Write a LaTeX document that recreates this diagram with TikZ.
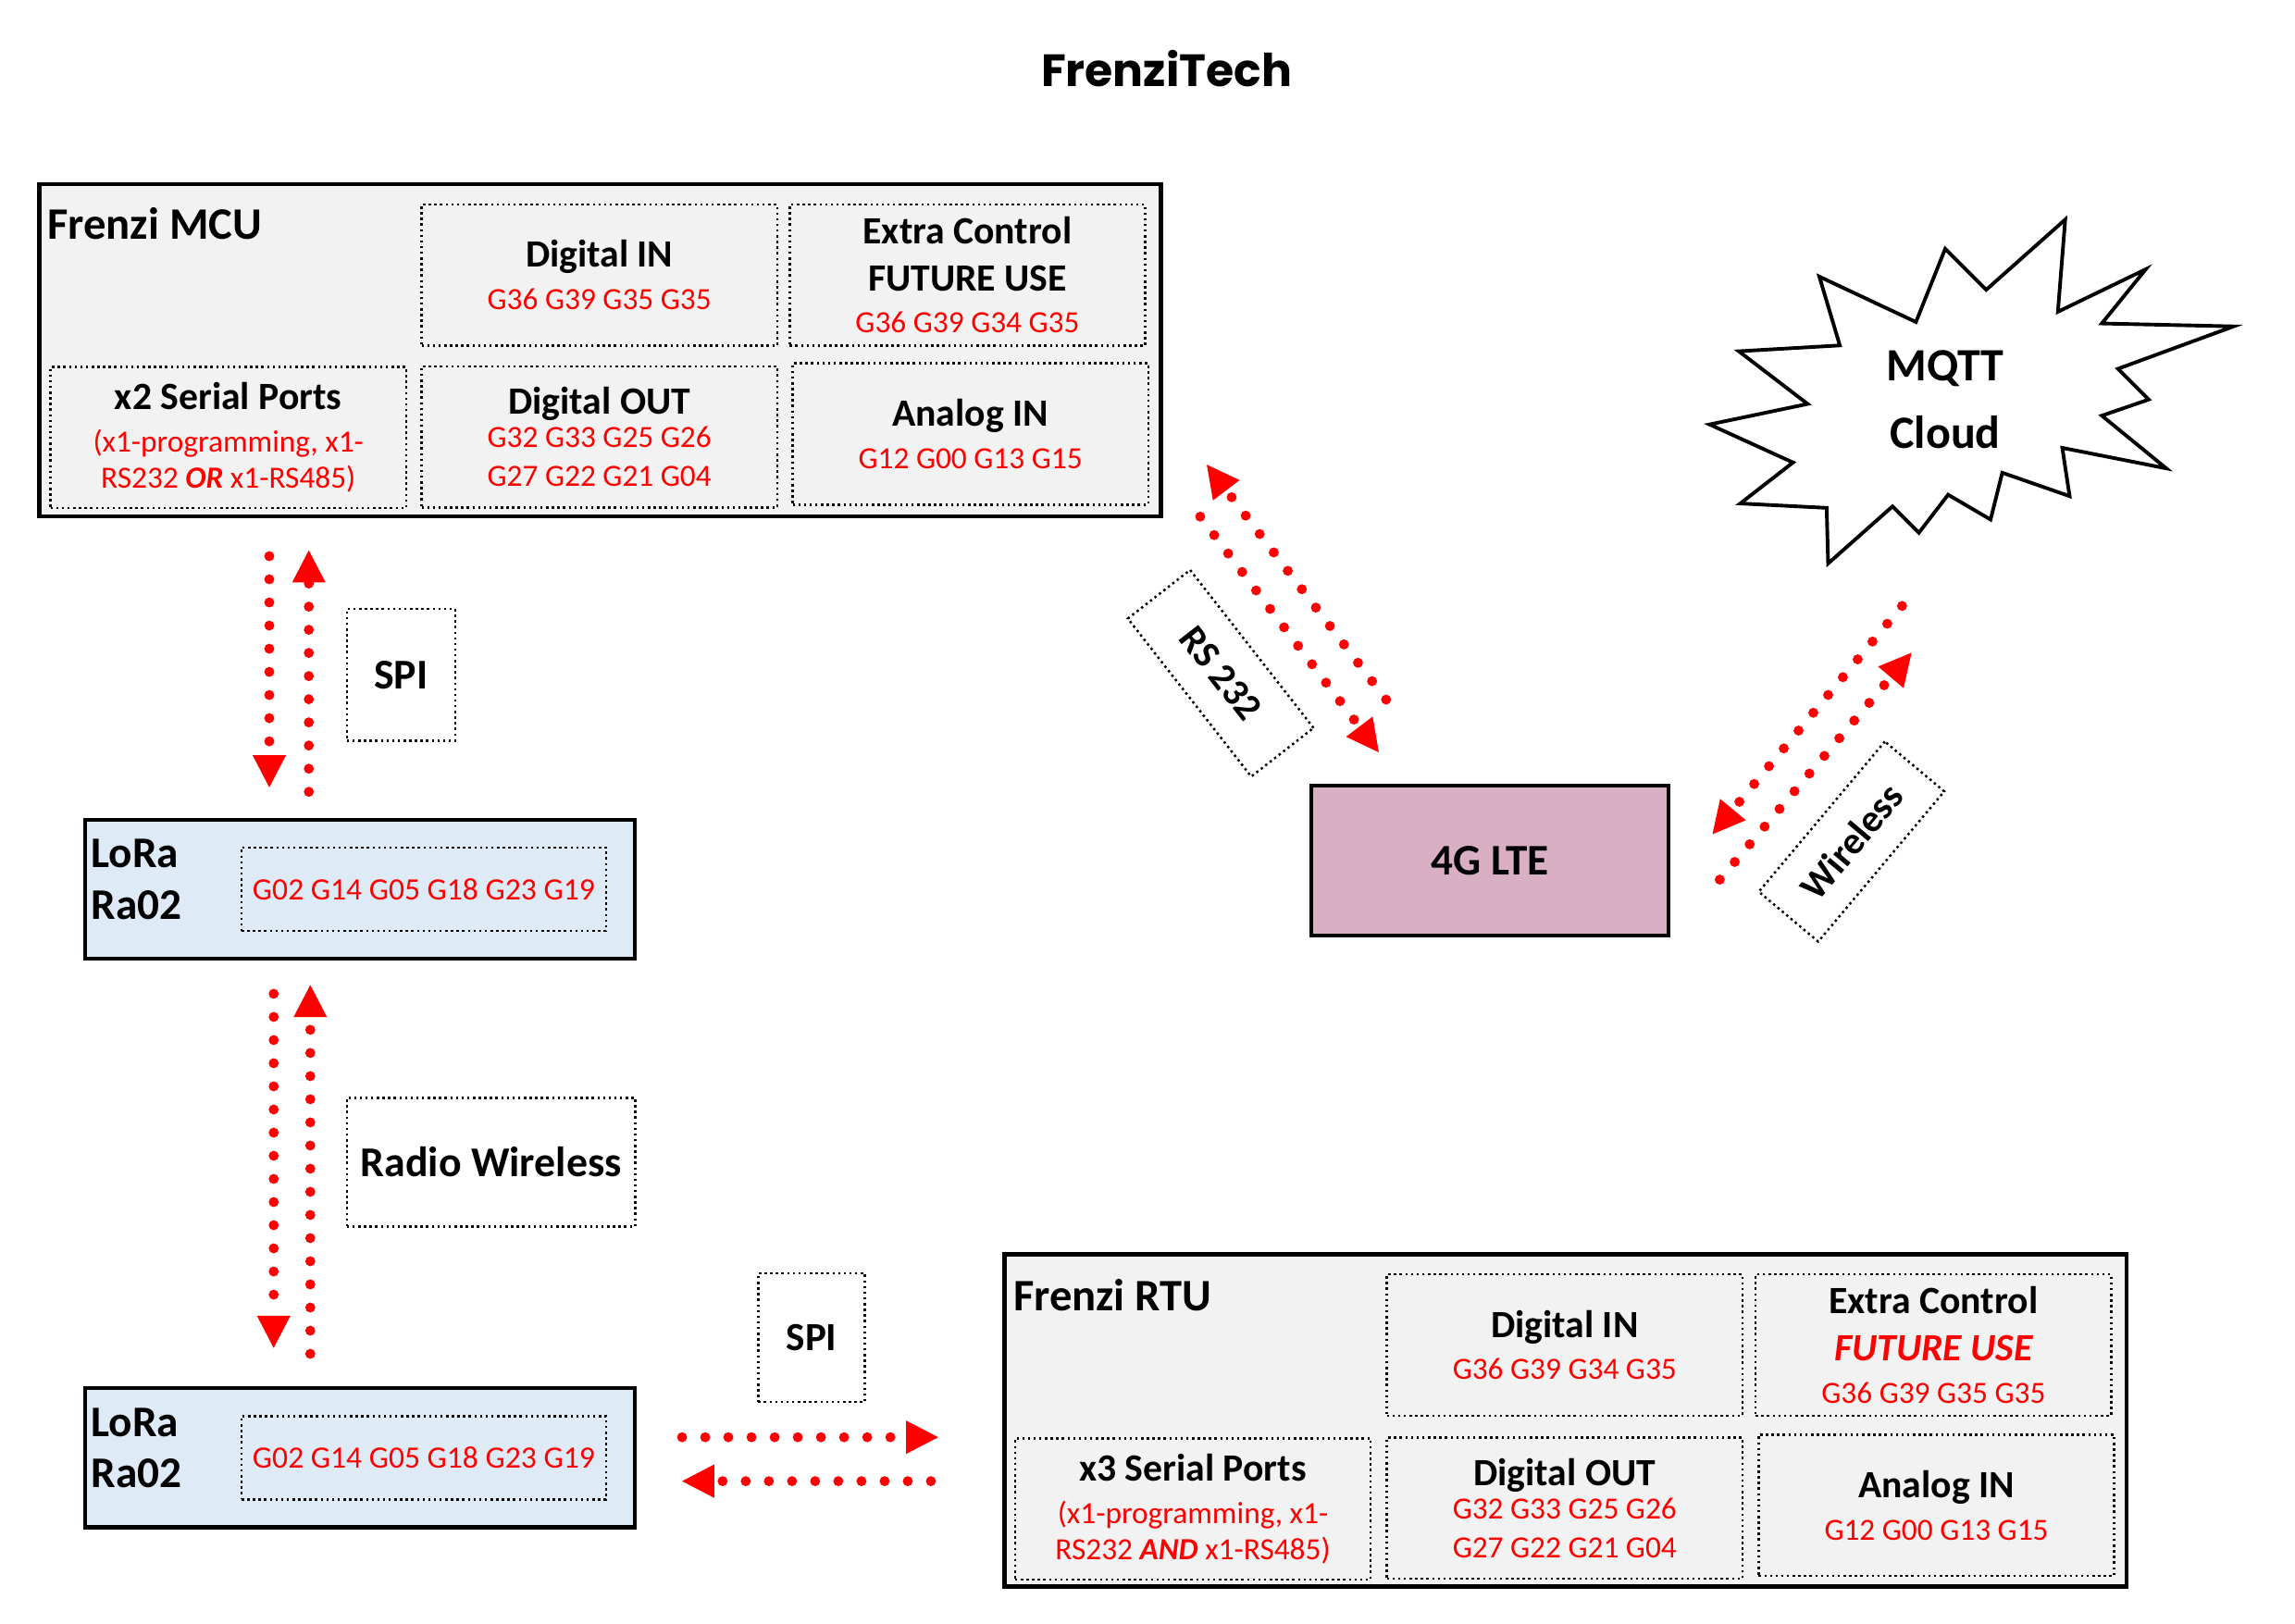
\documentclass[tikz,border=0pt]{standalone}
\usepackage{fontspec}
\setmainfont{Carlito}
\newfontfamily\gothic{Poppins}
\usepackage{xcolor}
\usetikzlibrary{arrows.meta,positioning}

\definecolor{panel}{HTML}{F2F2F2}
\definecolor{loraback}{HTML}{DEEBF7}
\definecolor{lteback}{HTML}{D8AFC3}
\definecolor{pinred}{HTML}{FF0000}
\newcommand{\pins}{\color{pinred}\mdseries\fontsize{12}{14}\selectfont}

\begin{document}
\begin{tikzpicture}[x=0.02cm,y=-0.02cm,
  every node/.style={font=\fontsize{15}{16.5}\selectfont\bfseries},
  board/.style={rectangle,draw,line width=1.5pt,fill=panel,minimum width=15.33cm,minimum height=4.54cm},
  port/.style={rectangle,draw,dash pattern=on 0.9pt off 1.3pt,line width=0.9pt,fill=panel,align=center,minimum width=4.86cm,minimum height=1.93cm,inner sep=1pt},
  radio/.style={rectangle,draw,line width=1.5pt,fill=loraback,minimum width=7.52cm,minimum height=1.9cm},
  radioname/.style={anchor=west,align=left,inner sep=0pt,font=\bfseries\fontsize{17}{20}\selectfont},
  pinbox/.style={rectangle,draw,dash pattern=on 0.9pt off 1.3pt,line width=0.9pt,minimum width=4.98cm,minimum height=1.14cm,text=pinred,font=\fontsize{12.1}{13}\selectfont},
  tag/.style={rectangle,draw,dash pattern=on 0.9pt off 1.3pt,line width=0.9pt},
  bigtag/.style={tag,font=\bfseries\fontsize{16.5}{18}\selectfont},
  flow/.style={draw=pinred,line width=3.9pt,line cap=round,dash pattern=on 0pt off 9pt,-{Triangle[length=12.5pt,width=13pt,line width=0pt]}}]
\useasboundingbox (0,0) rectangle (1568,1109);

\node (title) at (797,47) {\gothic\bfseries\fontsize{17.6}{20}\selectfont FrenziTech};

\node[board] (mcu) at (410,239.5) {};
\node[anchor=west,inner sep=0pt,font=\fontsize{17.5}{20}\selectfont\bfseries] (mcuname) at (32,153) {Frenzi MCU};
\node[port] (mcudin) at (409.5,188) {Digital IN\\{\pins G36 G39 G35 G35}};
\node[port] (mcuext) at (661,188) {Extra Control\\[1.6pt]FUTURE USE\\{\pins G36 G39 G34 G35}};
\node[port] (mcuser) at (156,299) {x2 Serial Ports\\{\pins (x1-programming, x1-}\\[-2.3pt]{\pins RS232 \textbf{\itshape OR} x1-RS485)}};
\node[port] (mcudout) at (409.5,298.5) {Digital OUT\\[-3.5pt]{\pins G32 G33 G25 G26}\\[-1.2pt]{\pins G27 G22 G21 G04}};
\node[port] (mcuain) at (663,296.5) {Analog IN\\{\pins G12 G00 G13 G15}};

\node[radio] (loraA) at (246,607.5) {};
\node[radioname] (loraAname) at (62,601) {LoRa\\Ra02};
\node[pinbox] (loraApins) at (289.5,607.5) {G02 G14 G05 G18 G23 G19};

\node[radio] (loraB) at (246,996) {};
\node[radioname] (loraBname) at (62,989.5) {LoRa\\Ra02};
\node[pinbox] (loraBpins) at (289.5,996) {G02 G14 G05 G18 G23 G19};

\node[board] (rtu) at (1069.5,970.5) {};
\node[anchor=west,inner sep=0pt,font=\fontsize{17.5}{20}\selectfont\bfseries] (rtuname) at (692,885) {Frenzi RTU};
\node[port] (rtudin) at (1069,919) {Digital IN\\{\pins G36 G39 G34 G35}};
\node[port] (rtuext) at (1321,919) {Extra Control\\[1.6pt]{\color{pinred}\itshape FUTURE USE}\\{\pins G36 G39 G35 G35}};
\node[port] (rtuser) at (815,1031) {x3 Serial Ports\\{\pins (x1-programming, x1-}\\[-2.3pt]{\pins RS232 \textbf{\itshape AND} x1-RS485)}};
\node[port] (rtudout) at (1069,1030.5) {Digital OUT\\[-3.5pt]{\pins G32 G33 G25 G26}\\[-1.2pt]{\pins G27 G22 G21 G04}};
\node[port] (rtuain) at (1323,1028.5) {Analog IN\\{\pins G12 G00 G13 G15}};

\node[rectangle,draw,line width=1.5pt,fill=lteback,minimum width=4.88cm,minimum height=2.04cm,font=\fontsize{17}{20}\selectfont\bfseries] (lte) at (1018,588) {\raisebox{-1.5pt}{4G LTE}};

\draw[line width=1.4pt,fill=white] (1411,150) -- (1406,213) -- (1466,184) -- (1436,221) -- (1526,223) -- (1447,252) -- (1468,273) -- (1436,284) -- (1480,320) -- (1409,306) -- (1414,339) -- (1368,323) -- (1360,355) -- (1331,338) -- (1311,364) -- (1293,346) -- (1249,385) -- (1248,347) -- (1189,344) -- (1225,316) -- (1168,290) -- (1235,276) -- (1188,240) -- (1257,236) -- (1243,189) -- (1309,220) -- (1329,170) -- (1357,198) -- cycle;
\node[align=center,font=\fontsize{18}{26}\selectfont\bfseries] (mqtt) at (1329,273) {MQTT\\Cloud};

\node[bigtag,minimum width=1.48cm,minimum height=1.8cm] (spiA) at (274,461) {SPI};
\node[bigtag,minimum width=3.94cm,minimum height=1.76cm] (radiolink) at (335.5,794) {Radio Wireless};
\node[tag,minimum width=1.46cm,minimum height=1.76cm,font=\bfseries\fontsize{15.5}{18}\selectfont] (spiB) at (554.5,914) {SPI};
\node[tag,minimum width=2.74cm,minimum height=1.08cm,rotate=-52] (rslink) at (834,460) {RS 232};
\node[tag,minimum width=2.68cm,minimum height=1.06cm,rotate=50] (wlink) at (1265,575) {Wireless};

\coordinate (s1a) at (184,380); \coordinate (s1b) at (184,538);
\coordinate (s1c) at (211,541); \coordinate (s1d) at (211,376);
\coordinate (r1a) at (187,679); \coordinate (r1b) at (187,921);
\coordinate (r1c) at (212,925); \coordinate (r1d) at (212,673);
\coordinate (s2a) at (466,982); \coordinate (s2b) at (641,982);
\coordinate (s2c) at (636,1012); \coordinate (s2d) at (466,1012);
\coordinate (rsa) at (947,478); \coordinate (rsb) at (824.5,317.5);
\coordinate (rsc) at (820,353); \coordinate (rsd) at (942,514);
\coordinate (wa) at (1299.5,414); \coordinate (wb) at (1170,570);
\coordinate (wc) at (1175,601); \coordinate (wd) at (1306,446);
\draw[flow] (s1a) -- (s1b);
\draw[flow] (s1c) -- (s1d);
\draw[flow] (r1a) -- (r1b);
\draw[flow] (r1c) -- (r1d);
\draw[flow] (s2a) -- (s2b);
\draw[flow] (s2c) -- (s2d);
\draw[flow] (rsa) -- (rsb);
\draw[flow] (rsc) -- (rsd);
\draw[flow] (wa) -- (wb);
\draw[flow] (wc) -- (wd);
\end{tikzpicture}
\end{document}
